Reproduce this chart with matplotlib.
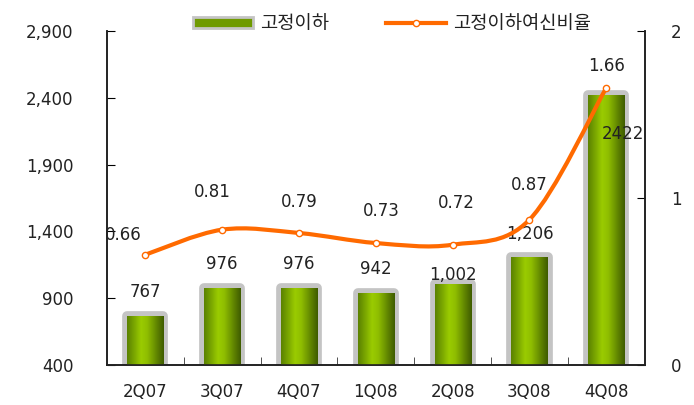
import numpy as np
import matplotlib
matplotlib.use("Agg")
import matplotlib.pyplot as plt
from matplotlib.path import Path
from matplotlib.patches import PathPatch
from matplotlib.colors import LinearSegmentedColormap
from matplotlib.lines import Line2D

plt.rcParams['font.family'] = ['DejaVu Sans', 'Noto Sans CJK KR']

# data
quarters = ["2Q07", "3Q07", "4Q07", "1Q08", "2Q08", "3Q08", "4Q08"]
npl_amount = [767, 976, 976, 942, 1002, 1206, 2422]
npl_labels = ["767", "976", "976", "942", "1,002", "1,206", "2422"]
npl_ratio = [0.66, 0.81, 0.79, 0.73, 0.72, 0.87, 1.66]
left_ticks = [400, 900, 1400, 1900, 2400, 2900]
right_ticks = [0, 1, 2]

bar_name = "고정이하"
line_name = "고정이하여신비율"

x = np.arange(len(quarters))
txt = "#222222"

fig = plt.figure(figsize=(6.94, 4.05), dpi=100)
ax = fig.add_axes([0.154, 0.099, 0.775, 0.8245])
ax2 = ax.twinx()

# bars: grey frame + green gradient
bw = 0.47
frames = ax.bar(x, np.array(npl_amount) - 400, bottom=400, width=bw,
                color="#c4c4c4", edgecolor="#c4c4c4", linewidth=7,
                joinstyle="round", zorder=2)
green = LinearSegmentedColormap.from_list(
    "g", [(0, "#5b8200"), (0.38, "#9acb00"), (0.55, "#8fbe00"), (1, "#3f5c00")])
grad = np.linspace(0, 1, 64).reshape(1, -1)
for xi, v in zip(x, npl_amount):
    im = ax.imshow(grad, cmap=green, aspect="auto", zorder=3,
                   extent=(xi - bw / 2, xi + bw / 2, 400, v))
    clip = plt.Rectangle((xi - bw / 2, 400), bw, v - 400, transform=ax.transData)
    im.set_clip_path(clip)

# bar value labels (offset in points)
bar_off = [(0, 17), (0, 17), (0, 17), (0, 17), (0, 7), (0, 17), (12, -28)]
for xi, v, t, off in zip(x, npl_amount, npl_labels, bar_off):
    ax.annotate(t, (xi, v), xytext=off, textcoords="offset points",
                ha="center", va="center", fontsize=12, color=txt, zorder=6)

ax.set_xlim(-0.5, len(quarters) - 0.5)
ax.set_ylim(400, 2900)
ax.set_yticks(left_ticks)
ax.set_yticklabels([f"{t:,}" for t in left_ticks])
ax.set_xticks(x)
ax.set_xticklabels(quarters)
ax.set_xticks(np.arange(0.5, len(quarters) - 1, 1), minor=True)
ax.tick_params(axis="x", which="major", length=0, pad=13, labelsize=12, colors=txt)
ax.tick_params(axis="x", which="minor", direction="in", length=6, color="#333333")
ax.tick_params(axis="y", direction="in", length=6, pad=24, labelsize=12, labelcolor=txt)

# smooth line through ratios (cubic bezier segments)
pts = np.column_stack([x, npl_ratio]).astype(float)
verts = [pts[0]]
codes = [Path.MOVETO]
for i in range(len(pts) - 1):
    p0 = pts[i - 1] if i > 0 else pts[i]
    p1, p2 = pts[i], pts[i + 1]
    p3 = pts[i + 2] if i + 2 < len(pts) else pts[i + 1]
    c1 = p1 + (p2 - p0) / 6
    c2 = p2 - (p3 - p1) / 6
    verts += [c1, c2, p2]
    codes += [Path.CURVE4] * 3
ax2.add_patch(PathPatch(Path(verts, codes), facecolor="none", edgecolor="#ff6a00",
                        linewidth=3, capstyle="round", zorder=4))
ax2.plot(x, npl_ratio, linestyle="none", marker="o", markersize=4.5,
         markerfacecolor="white", markeredgecolor="#ff6a00", markeredgewidth=1, zorder=5)

line_off = [(-16, 14), (-7, 27), (0, 22), (4, 23), (3, 30), (0, 25), (0, 16)]
for xi, v, off in zip(x, npl_ratio, line_off):
    ax2.annotate(f"{v:.2f}", (xi, v), xytext=off, textcoords="offset points",
                 ha="center", va="center", fontsize=12, color=txt, zorder=6)

ax2.set_ylim(0, 2)
ax2.set_yticks(right_ticks)
ax2.tick_params(axis="y", direction="in", length=6, pad=19, labelsize=12, labelcolor=txt)

for a in (ax, ax2):
    a.spines["top"].set_visible(False)
    for s in a.spines.values():
        s.set_linewidth(1.2)
        s.set_color("#222222")
ax2.set_zorder(ax.get_zorder() + 1)
ax2.patch.set_visible(False)

# legend
handles = [
    plt.Rectangle((0, 0), 1, 1, facecolor="#6f9a00", edgecolor="#c4c4c4", linewidth=2),
    Line2D([], [], color="#ff6a00", linewidth=3, marker="o", markersize=4.5,
           markerfacecolor="white", markeredgecolor="#ff6a00"),
]
fig.legend(handles, [bar_name, line_name], loc="upper center", ncol=2,
           bbox_to_anchor=(0.565, 1.01), frameon=False,
           handlelength=3.2, handleheight=0.55, columnspacing=3.0, handletextpad=0.4,
           prop={"family": ["Noto Sans CJK KR"], "size": 13.5})
for t in fig.legends[0].get_texts():
    t.set_color(txt)

fig.savefig("out.png", dpi=100)
